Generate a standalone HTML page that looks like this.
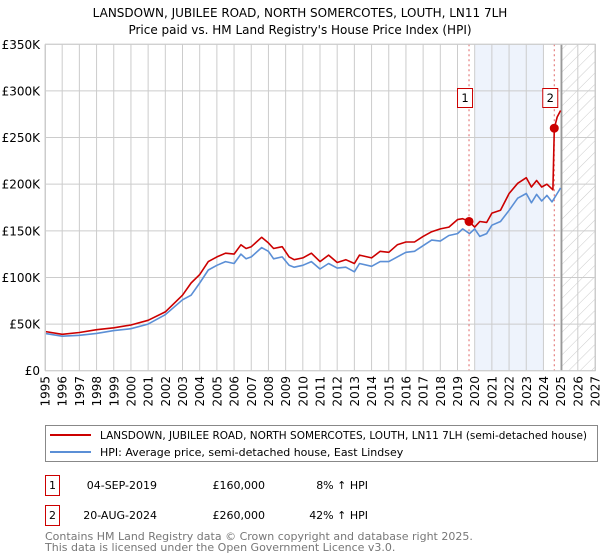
<!DOCTYPE html>
<html><head><meta charset="utf-8"><style>
body{margin:0;background:#fff;font-family:"DejaVu Sans","Liberation Sans",sans-serif;}
#wrap{position:relative;width:600px;height:560px;overflow:hidden}
</style></head><body>
<div id="wrap">
<svg id="chart" width="600" height="560" xmlns="http://www.w3.org/2000/svg" font-family="DejaVu Sans, Liberation Sans, sans-serif">
<defs><pattern id="hatch" width="8" height="8" patternUnits="userSpaceOnUse" patternTransform="rotate(45)"><line x1="0" y1="0" x2="0" y2="8" stroke="#ccc" stroke-width="1"/></pattern></defs>
<text x="300" y="17" text-anchor="middle" font-size="12" fill="#000">LANSDOWN, JUBILEE ROAD, NORTH SOMERCOTES, LOUTH, LN11 7LH</text>
<text x="300" y="34" text-anchor="middle" font-size="12" fill="#000">Price paid vs. HM Land Registry's House Price Index (HPI)</text>
<g id="plot"></g>
<g>
<rect x="45.5" y="425.5" width="552" height="36" fill="#fff" stroke="#888"/>
<line x1="50" y1="435" x2="91" y2="435" stroke="#cc0000" stroke-width="2"/>
<text x="100" y="439" font-size="11" textLength="487" lengthAdjust="spacingAndGlyphs">LANSDOWN, JUBILEE ROAD, NORTH SOMERCOTES, LOUTH, LN11 7LH (semi-detached house)</text>
<line x1="50" y1="452" x2="91" y2="452" stroke="#5b8fd6" stroke-width="2"/>
<text x="100" y="456" font-size="11">HPI: Average price, semi-detached house, East Lindsey</text>
</g>
<g font-size="11">
<rect x="45.5" y="475.5" width="14" height="20" fill="#fff" stroke="#cc0000"/>
<text x="52.5" y="489" text-anchor="middle">1</text>
<text x="157" y="489" text-anchor="end">04-SEP-2019</text>
<text x="265" y="489" text-anchor="end">£160,000</text>
<text x="368" y="489" text-anchor="end">8% ↑ HPI</text>
<rect x="45.5" y="505.5" width="14" height="20" fill="#fff" stroke="#cc0000"/>
<text x="52.5" y="519" text-anchor="middle">2</text>
<text x="157" y="519" text-anchor="end">20-AUG-2024</text>
<text x="265" y="519" text-anchor="end">£260,000</text>
<text x="368" y="519" text-anchor="end">42% ↑ HPI</text>
</g>
<text x="45" y="540" font-size="11" fill="#777">Contains HM Land Registry data © Crown copyright and database right 2025.</text>
<text x="45" y="551" font-size="11" fill="#777">This data is licensed under the Open Government Licence v3.0.</text>
</svg>
</div>
<script>
const yearTicks=[1995,1996,1997,1998,1999,2000,2001,2002,2003,2004,2005,2006,2007,2008,2009,2010,2011,2012,2013,2014,2015,2016,2017,2018,2019,2020,2021,2022,2023,2024,2025,2026,2027];
const valueTicks=[0,50000,100000,150000,200000,250000,300000,350000];
const valueTickLabels=["£0","£50K","£100K","£150K","£200K","£250K","£300K","£350K"];
const hpiDates=[1995,1996,1997,1998,1999,2000,2001,2002,2003,2003.5,2004,2004.5,2005,2005.5,2006,2006.4,2006.7,2007,2007.6,2008,2008.3,2008.8,2009.2,2009.5,2010,2010.5,2011,2011.5,2012,2012.5,2013,2013.3,2014,2014.5,2015,2015.5,2016,2016.5,2017,2017.5,2018,2018.5,2019,2019.3,2019.7,2020,2020.3,2020.7,2021,2021.5,2022,2022.5,2023,2023.3,2023.6,2023.9,2024.2,2024.5,2024.8,2025.0];
const hpiValues=[40000,37000,38000,40000,43000,45000,50000,60000,76000,81000,94000,108000,113000,117000,115000,125000,120000,122000,132000,128000,120000,122000,113000,111000,113000,117000,109000,115000,110000,111000,106000,115000,112000,117000,117000,122000,127000,128000,134000,140000,139000,145000,147000,152000,147000,152000,144000,147000,156000,160000,172000,185000,190000,180000,189000,182000,188000,181000,190000,196000];
const priceDates=[1995,1996,1997,1998,1999,2000,2001,2002,2003,2003.5,2004,2004.5,2005,2005.5,2006,2006.4,2006.7,2007,2007.6,2008,2008.3,2008.8,2009.2,2009.5,2010,2010.5,2011,2011.5,2012,2012.5,2013,2013.3,2014,2014.5,2015,2015.5,2016,2016.5,2017,2017.5,2018,2018.5,2019,2019.3,2019.67,2020,2020.3,2020.7,2021,2021.5,2022,2022.5,2023,2023.3,2023.6,2023.9,2024.2,2024.55,2024.63,2024.8,2025.0];
const priceValues=[42000,39000,41000,44000,46000,49000,54000,63000,81000,94000,103000,117000,122000,126000,125000,135000,131000,133000,143000,137000,131000,133000,122000,119000,121000,126000,117000,124000,116000,119000,115000,124000,121000,128000,127000,135000,138000,138000,144000,149000,152000,154000,162000,163000,160000,154000,160000,159000,169000,172000,190000,201000,207000,197000,204000,197000,200000,194000,260000,272000,279000];
const saleDates=[2019.67,2024.63];
const saleValues=[160000,260000];
const saleLabels=["1","2"];
const shadeStart=2020.0, shadeEnd=2024.0, hatchStart=2025.06;

const X0=45,X1=595,Y0=370.7,Y1=44.3,XMIN=1995,XMAX=2027,VMAX=350000;
const xs=t=>X0+(t-XMIN)/(XMAX-XMIN)*(X1-X0);
const ys=v=>Y0-v/VMAX*(Y0-Y1);
const NS="http://www.w3.org/2000/svg";
const plot=document.getElementById('plot');
function mk(tag,attrs,parent){const e=document.createElementNS(NS,tag);for(const k in attrs)e.setAttribute(k,attrs[k]);(parent||plot).appendChild(e);return e;}

let e=mk('rect',{x:xs(shadeStart),y:Y1,width:xs(shadeEnd)-xs(shadeStart),height:Y0-Y1,fill:'#eef3fc'});


e=mk('rect',{x:xs(hatchStart),y:Y1,width:X1-xs(hatchStart),height:Y0-Y1,fill:'url(#hatch)'});



yearTicks.forEach(t=>{
  const g=mk('line',{x1:xs(t),x2:xs(t),y1:Y1,y2:Y0,stroke:'#ccc','stroke-width':1});
  
  
  const tx=mk('text',{x:0,y:0,'font-size':12,'text-anchor':'end',transform:`translate(${xs(t)+4.5},376) rotate(-90)`});
  tx.textContent=t;
  
  
});
valueTicks.forEach((v,i)=>{
  const g=mk('line',{x1:X0,x2:X1,y1:ys(v),y2:ys(v),stroke:'#ccc','stroke-width':1});
  
  
  const tx=mk('text',{x:40,y:ys(v)+4.5,'font-size':12,'text-anchor':'end'});
  tx.textContent=valueTickLabels[i];
  
  
});
e=mk('line',{x1:xs(hatchStart),x2:xs(hatchStart),y1:Y1,y2:Y0,stroke:'#999','stroke-width':1.5});



saleDates.forEach((d,i)=>{
  const l=mk('line',{x1:xs(d),x2:xs(d),y1:Y1,y2:Y0,stroke:'#e06666','stroke-width':1,'stroke-dasharray':'2,3'});
  
  
});

let hp=hpiDates.map((d,i)=>(i?'L':'M')+xs(d).toFixed(1)+','+ys(hpiValues[i]).toFixed(1)).join('');
e=mk('path',{d:hp,fill:'none',stroke:'#5b8fd6','stroke-width':1.6,'stroke-linejoin':'round'});


let pp=priceDates.map((d,i)=>(i?'L':'M')+xs(d).toFixed(1)+','+ys(priceValues[i]).toFixed(1)).join('');
e=mk('path',{d:pp,fill:'none',stroke:'#cc0000','stroke-width':1.6,'stroke-linejoin':'round'});



saleDates.forEach((d,i)=>{
  const c=mk('circle',{cx:xs(d),cy:ys(saleValues[i]),r:4.5,fill:'#cc0000'});
  
  
  const r=mk('rect',{x:xs(d)-11.5,y:88.5,width:15,height:19,fill:'#fff',stroke:'#cc0000'});
  
  
  const t=mk('text',{x:xs(d)-4,y:102,'font-size':11.5,'text-anchor':'middle'});
  t.textContent=saleLabels[i];
  
  
});
e=mk('rect',{x:X0+0.5,y:Y1,width:X1-X0,height:Y0-Y1,fill:'none',stroke:'#ccc'});


</script>
</body></html>
